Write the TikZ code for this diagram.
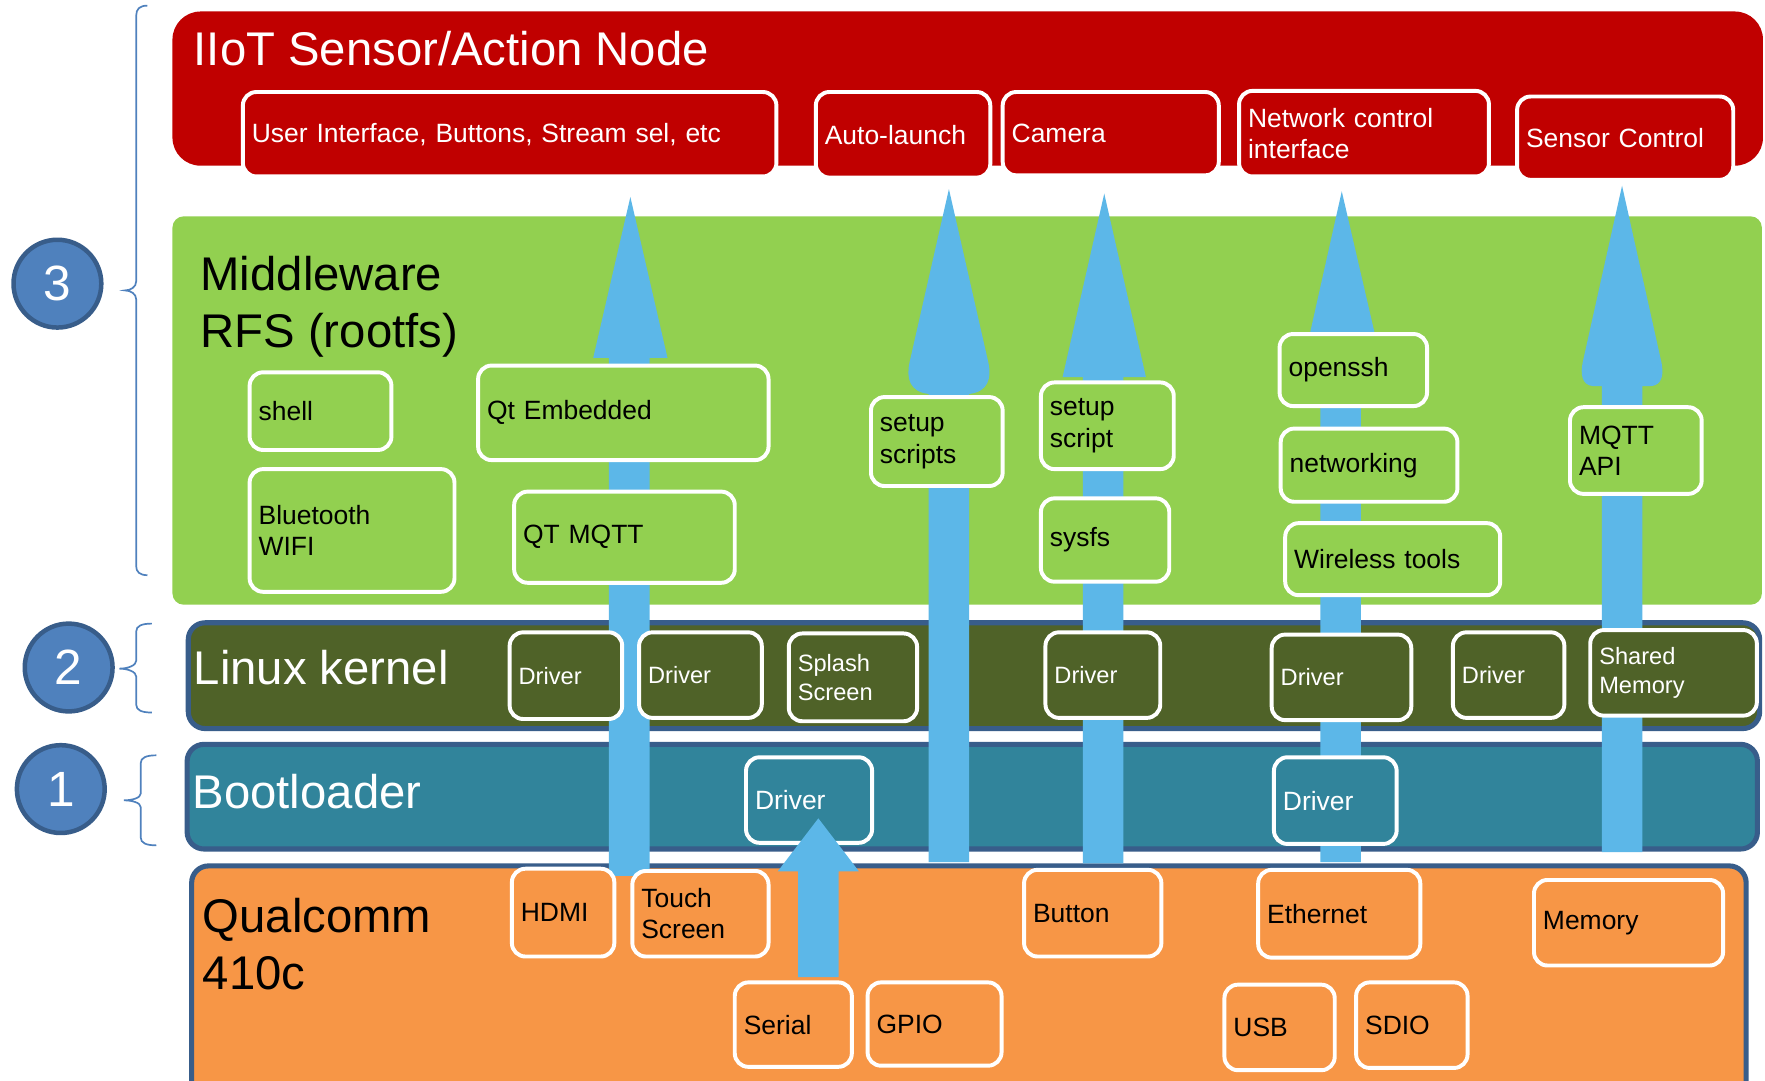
\documentclass[tikz,border=0pt]{standalone}
\usepackage{fontspec}
\setmainfont{Liberation Sans}
\definecolor{redc}{HTML}{C00000}
\definecolor{greenc}{HTML}{92D050}
\definecolor{olivec}{HTML}{4F6228}
\definecolor{tealc}{HTML}{31849B}
\definecolor{orangec}{HTML}{F79646}
\definecolor{bandline}{HTML}{385D8A}
\definecolor{arrowc}{HTML}{5CB7E8}
\definecolor{circfill}{HTML}{4F81BD}
\newcommand\mybox[7]{%
  \pgfmathsetmacro\bw{#4-#2}%
  \pgfmathsetmacro\bh{#5-#3}%
  \pgfmathsetmacro\tw{#4-#2-16}%
  \node[#6,anchor=north west,minimum width=\bw pt,minimum height=\bh pt,text width=\tw pt] (#1) at (#2,#3) {#7};}
\tikzset{
  sub/.style={draw=white,line width=3.5pt,rounded corners=12pt,inner xsep=8pt,inner ysep=2pt,align=left},
  redsub/.style={sub,fill=redc,text=white,font=\fontsize{23.5}{28}\selectfont},
  greensub/.style={sub,fill=greenc,text=black,font=\fontsize{23.5}{28}\selectfont},
  kernsub/.style={sub,fill=olivec,text=white,font=\fontsize{21}{26}\selectfont},
  bootsub/.style={sub,fill=tealc,text=white,font=\fontsize{23.5}{28}\selectfont},
  orsub/.style={sub,fill=orangec,text=black,font=\fontsize{23.5}{28}\selectfont},
  band/.style={draw=bandline,line width=4.5pt,rounded corners=15pt,inner xsep=8pt},
  plainband/.style={draw=none,inner xsep=8pt},
  title/.style={anchor=base west,inner sep=0pt,font=\fontsize{42}{51}\selectfont},
  numc/.style={circle,fill=circfill,draw=bandline,line width=4pt,minimum size=78pt,text=white,font=\fontsize{44}{44}\selectfont,inner sep=0pt},
  brc/.style={draw=circfill,line width=1.5pt},
}
\begin{document}
\begin{tikzpicture}[x=1pt,y=-1pt]
\useasboundingbox (0,0) rectangle (1568,960);
\fill[white] (0,0) rectangle (1568,960);
\clip (0,0) rectangle (1568,960);

% bands
\mybox{redband}{153}{10}{1566}{147}{plainband,fill=redc,rounded corners=25pt}{}
\mybox{greenband}{153}{192}{1565}{537}{plainband,fill=greenc,rounded corners=10pt}{}
\mybox{kernband}{165}{551}{1561}{645}{band,fill=olivec}{}
\mybox{bootband}{164}{659}{1559}{752}{band,fill=tealc}{}
\mybox{qcband}{168}{767}{1549}{985}{band,fill=orangec}{}

% band titles
\node[title,text=white] (tRed) at (172,58) {IIoT Sensor/Action Node};
\node[title] (tMid1) at (178,258) {Middleware};
\node[title] (tMid2) at (178,309) {RFS (rootfs)};
\node[title,text=white] (tKern) at (172,608) {Linux kernel};
\node[title,text=white] (tBoot) at (171,718) {Bootloader};
\node[title] (tQc1) at (180,828) {Qualcomm};
\node[title] (tQc2) at (180,879) {410c};

% big arrows
\fill[arrowc] (541,778) -- (541,318) -- (527,318) -- (560,175) -- (593,318) -- (577,318) -- (577,778) -- cycle;
\fill[arrowc] (825,766) -- (825,350) .. controls (808,348) and (805,336) .. (808,322) -- (843,168) -- (878,322) .. controls (881,336) and (878,348) .. (861,350) -- (861,766) -- cycle;
\fill[arrowc] (962,767) -- (962,335) -- (944,335) -- (981,172) -- (1018,335) -- (998,335) -- (998,767) -- cycle;
\fill[arrowc] (1173,766) -- (1173,295) -- (1164,295) -- (1192,170) -- (1221,295) -- (1209,295) -- (1209,766) -- cycle;
\fill[arrowc] (1423,757) -- (1423,343) -- (1415,343) .. controls (1405,342) and (1404,332) .. (1406,322) -- (1441,165) -- (1476,322) .. controls (1478,332) and (1477,342) .. (1467,343) -- (1459,343) -- (1459,757) -- cycle;

% red sub-boxes
\mybox{rb1}{214}{80}{688}{155}{redsub}{User Interface, Buttons, Stream sel, etc}
\mybox{rb2}{723}{80}{878}{156}{redsub}{Auto-launch}
\mybox{rb3}{889}{80}{1081}{154}{redsub}{Camera}
\mybox{rb4}{1099}{79}{1321}{155}{redsub}{Network control\\interface}
\mybox{rb5}{1346}{84}{1538}{158}{redsub}{Sensor Control}

% green sub-boxes
\mybox{gshell}{220}{329}{346}{398}{greensub}{shell}
\mybox{gqte}{423}{323}{681}{407}{greensub}{Qt Embedded}
\mybox{gbt}{220}{415}{402}{524}{greensub}{Bluetooth\\WIFI}
\mybox{gqtm}{455}{435}{651}{516}{greensub}{QT MQTT}
\mybox{gss}{772}{351}{889}{430}{greensub}{setup\\scripts}
\mybox{gsc}{923}{338}{1041}{415}{greensub}{setup\\script}
\mybox{gsys}{923}{441}{1037}{515}{greensub}{sysfs}
\mybox{gssh}{1135}{295}{1266}{359}{greensub}{openssh}
\mybox{gnet}{1136}{379}{1293}{444}{greensub}{networking}
\mybox{gwt}{1140}{463}{1331}{527}{greensub}{Wireless tools}
\mybox{gmqtt}{1393}{360}{1510}{437}{greensub}{MQTT\\API}

% kernel sub-boxes
\mybox{k1}{451}{560}{551}{637}{kernsub}{Driver}
\mybox{k2}{566}{560}{675}{636}{kernsub}{Driver}
\mybox{k3}{699}{561}{813}{639}{kernsub}{Splash\\Screen}
\mybox{k4}{927}{560}{1029}{636}{kernsub}{Driver}
\mybox{k5}{1128}{562}{1252}{638}{kernsub}{Driver}
\mybox{k6}{1289}{560}{1388}{636}{kernsub}{Driver}
\mybox{k7}{1411}{558}{1559}{634}{kernsub}{Shared\\Memory}

% bootloader sub-boxes
\mybox{b1}{661}{671}{773}{747}{bootsub}{Driver}
\mybox{b2}{1130}{671}{1239}{748}{bootsub}{Driver}

% qualcomm sub-boxes
\mybox{o1}{453}{770}{544}{848}{orsub}{HDMI}
\mybox{o2}{560}{772}{681}{848}{orsub}{Touch\\Screen}
\mybox{o3}{651}{871}{755}{946}{orsub}{Serial}
\mybox{o4}{769}{871}{888}{945}{orsub}{GPIO}
\mybox{o5}{908}{771}{1030}{848}{orsub}{Button}
\mybox{o6}{1116}{771}{1260}{849}{orsub}{Ethernet}
\mybox{o7}{1086}{873}{1184}{949}{orsub}{USB}
\mybox{o8}{1203}{871}{1302}{947}{orsub}{SDIO}
\mybox{o9}{1361}{780}{1529}{856}{orsub}{Memory}

% small arrow Serial -> bootloader driver
\fill[arrowc] (709,868) -- (709,774) -- (691,774) -- (727,727) -- (763,774) -- (745,774) -- (745,868) -- cycle;

% numbered circles
\node[numc] (c3) at (51,252) {3};
\node[numc] (c2) at (61,593) {2};
\node[numc] (c1) at (54,701) {1};

% braces
\draw[brc] (131,5) .. controls (124,5) and (121,8) .. (121,14) -- (121,250) .. controls (121,255) and (116,258) .. (111,258) .. controls (116,258) and (121,261) .. (121,266) -- (121,503) .. controls (121,508) and (124,511) .. (131,511);
\draw[brc] (135,554) .. controls (126,554) and (121,556) .. (121,561) -- (121,587) .. controls (121,591) and (114,594) .. (106,594) .. controls (114,594) and (121,597) .. (121,601) -- (121,626) .. controls (121,631) and (126,633) .. (135,633);
\draw[brc] (139,671) .. controls (130,671) and (125,673) .. (125,678) -- (125,705) .. controls (125,709) and (117,711) .. (110,711) .. controls (117,711) and (125,713) .. (125,717) -- (125,744) .. controls (125,749) and (130,751) .. (139,751);
\end{tikzpicture}
\end{document}
